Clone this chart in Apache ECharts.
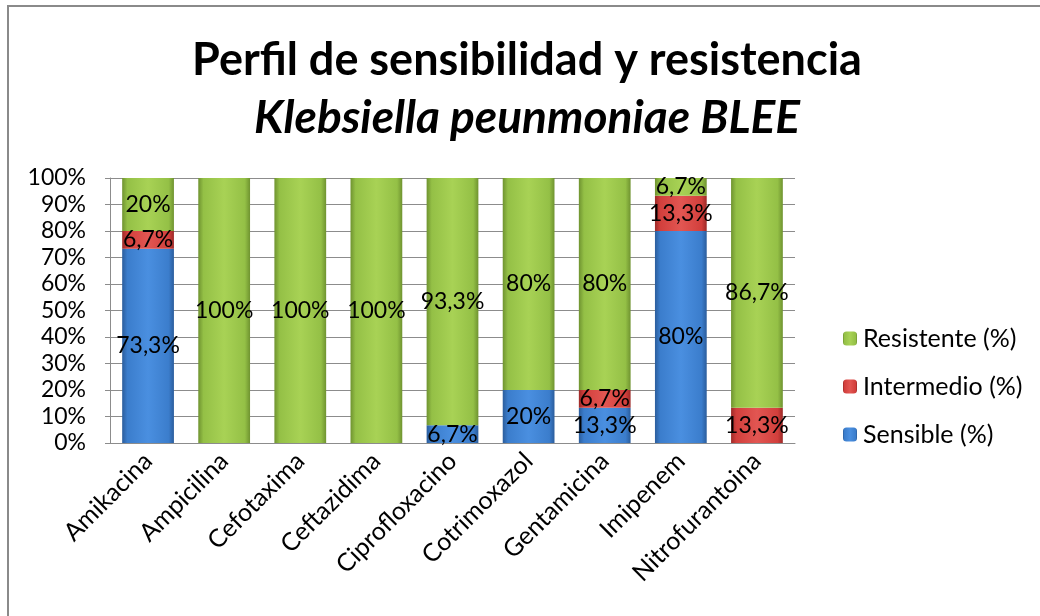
<!DOCTYPE html>
<html>
<head>
<meta charset="utf-8">
<script src="https://cdn.jsdelivr.net/npm/echarts@6/dist/echarts.min.js"></script>
<style>
  html, body { margin: 0; padding: 0; background: #fff; }
  #chart1 { width: 1040px; height: 616px; }
</style>
</head>
<body>
<div id="chart1"></div>
<script>
const antibioticos = ['Amikacina', 'Ampicilina', 'Cefotaxima', 'Ceftazidima', 'Ciprofloxacino',
    'Cotrimoxazol', 'Gentamicina', 'Imipenem', 'Nitrofurantoina'];
const sensible = [73.3, 0, 0, 0, 6.7, 20, 13.3, 80, 0];
const intermedio = [6.7, 0, 0, 0, 0, 0, 6.7, 13.3, 13.3];
const resistente = [20, 100, 100, 100, 93.3, 80, 80, 6.7, 86.7];

const fuente = 'Lato, "Open Sans", sans-serif';

// degradado horizontal para imitar el relieve de Excel
function relieve(borde, base, claro) {
    return new echarts.graphic.LinearGradient(0, 0, 1, 0, [
        { offset: 0, color: borde },
        { offset: 0.1, color: base },
        { offset: 0.5, color: claro },
        { offset: 0.9, color: base },
        { offset: 1, color: borde }
    ]);
}

function etiqueta(p) {
    if (!p.value) return '';
    return String(p.value).replace('.', ',') + '%';
}

function serie(nombre, datos, borde, base, claro) {
    return {
        name: nombre,
        type: 'bar',
        stack: 'total',
        barWidth: '68%',
        data: datos,
        itemStyle: {
            color: relieve(borde, base, claro),
            borderWidth: 0
        },
        label: {
            show: true,
            position: 'inside',
            formatter: etiqueta,
            color: '#000',
            fontFamily: fuente,
            fontSize: 23
        }
    };
}

const chart1 = echarts.init(document.getElementById('chart1'));

let option = {
    animation: false,
    graphic: [
        {
            type: 'rect',
            shape: { x: 8, y: 6, width: 1100, height: 700 },
            style: { fill: 'none', stroke: '#8a8a8a', lineWidth: 2 }
        },
        {
            type: 'text',
            x: 527, y: 60,
            style: {
                text: 'Perfil de sensibilidad y resistencia',
                font: 'bold 45px ' + fuente,
                fill: '#000',
                textAlign: 'center',
                textVerticalAlign: 'middle'
            }
        },
        {
            type: 'text',
            x: 527, y: 118,
            style: {
                text: 'Klebsiella peunmoniae BLEE',
                font: 'italic bold 46px ' + fuente,
                fill: '#000',
                textAlign: 'center',
                textVerticalAlign: 'middle'
            }
        }
    ],
    legend: {
        orient: 'vertical',
        left: 838,
        top: 321,
        itemWidth: 14,
        itemHeight: 14,
        itemGap: 23,
        data: ['Resistente (%)', 'Intermedio (%)', 'Sensible (%)'],
        textStyle: { fontFamily: fuente, fontSize: 25, color: '#000', lineHeight: 25, padding: [0, 0, 0, 1] }
    },
    grid: { left: 110, right: 245, top: 178, bottom: 173 },
    xAxis: {
        type: 'category',
        data: antibioticos,
        axisLine: { lineStyle: { color: '#8c8c8c' } },
        axisTick: { show: false },
        axisLabel: {
            interval: 0,
            rotate: 45,
            margin: 14,
            color: '#000',
            fontFamily: fuente,
            fontSize: 25
        }
    },
    yAxis: {
        type: 'value',
        min: 0,
        max: 100,
        interval: 10,
        axisLine: { show: true, lineStyle: { color: '#8c8c8c' } },
        axisTick: { show: true, length: 5, lineStyle: { color: '#8c8c8c' } },
        splitLine: { lineStyle: { color: '#8c8c8c' } },
        axisLabel: {
            formatter: '{value}%',
            margin: 24,
            color: '#000',
            fontFamily: fuente,
            fontSize: 23
        }
    },
    series: [
        serie('Sensible (%)', sensible, '#2b5d9c', '#3b7dcc', '#4a8fe0'),
        serie('Intermedio (%)', intermedio, '#9c2a28', '#d23f3c', '#e25652'),
        serie('Resistente (%)', resistente, '#6f9330', '#94c046', '#a8d255')
    ]
};

chart1.setOption(option);
</script>
</body>
</html>
